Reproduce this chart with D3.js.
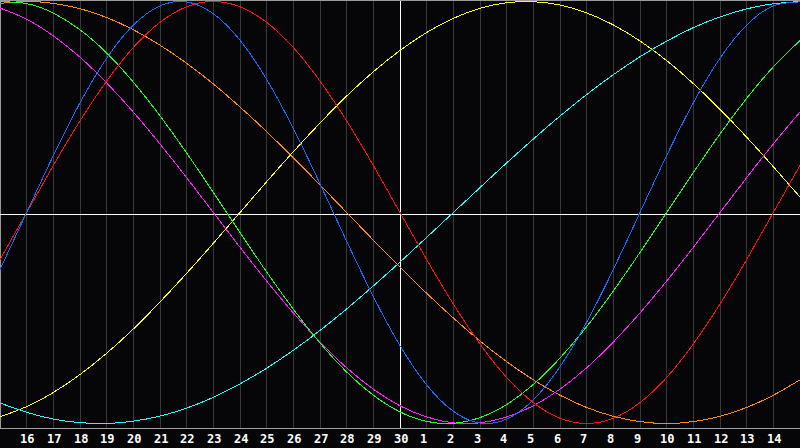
<!DOCTYPE html>
<html><head><meta charset="utf-8">
<script src="https://cdn.jsdelivr.net/npm/d3@7"></script>
<style>html,body{margin:0;padding:0;background:#060508;overflow:hidden}</style>
</head><body>
<svg id="chart" width="800" height="448"></svg>
<script>
// Day labels along the bottom (index 0 = the 15th, index 30 = the 15th of next month)
const dayLabels = [15,16,17,18,19,20,21,22,23,24,25,26,27,28,29,30,1,2,3,4,5,6,7,8,9,10,11,12,13,14,15];

// Daily values (-1 .. 1)
const physical = [-0.270,0,0.270,0.520,0.731,0.888,0.979,0.998,0.942,0.817,0.631,0.398,0.136,-0.136,-0.398,-0.631,-0.817,-0.942,-0.998,-0.979,-0.888,-0.731,-0.520,-0.270,0,0.270,0.520,0.731,0.888,0.979,0.998];
const emotional = [-0.223,0,0.223,0.434,0.623,0.782,0.901,0.975,1,0.975,0.901,0.782,0.623,0.434,0.223,0,-0.223,-0.434,-0.623,-0.782,-0.901,-0.975,-1,-0.975,-0.901,-0.782,-0.623,-0.434,-0.223,0,0.223];
const intellectual = [0.999,0.990,0.945,0.866,0.756,0.618,0.458,0.282,0.095,-0.095,-0.282,-0.458,-0.618,-0.756,-0.866,-0.945,-0.990,-0.999,-0.972,-0.910,-0.815,-0.690,-0.541,-0.372,-0.189,0,0.189,0.372,0.541,0.690,0.815];
const intuitive = [0.969,0.916,0.837,0.736,0.614,0.476,0.325,0.165,0,-0.165,-0.325,-0.476,-0.614,-0.736,-0.837,-0.916,-0.969,-0.997,-0.997,-0.969,-0.916,-0.837,-0.736,-0.614,-0.476,-0.325,-0.165,0,0.165,0.325,0.476];
const aesthetic = [-0.968,-0.920,-0.853,-0.768,-0.667,-0.552,-0.424,-0.288,-0.146,0,0.146,0.288,0.424,0.552,0.667,0.768,0.853,0.920,0.968,0.994,0.999,0.983,0.946,0.889,0.813,0.720,0.611,0.489,0.357,0.217,0.073];
const awareness = [0.991,1,0.991,0.966,0.924,0.866,0.793,0.707,0.609,0.5,0.383,0.259,0.131,0,-0.131,-0.259,-0.383,-0.5,-0.609,-0.707,-0.793,-0.866,-0.924,-0.966,-0.991,-1,-0.991,-0.966,-0.924,-0.866,-0.793];
const spiritual = [-0.903,-0.947,-0.979,-0.996,-1,-0.989,-0.965,-0.927,-0.876,-0.812,-0.738,-0.653,-0.559,-0.457,-0.348,-0.235,-0.118,0,0.118,0.235,0.348,0.457,0.559,0.653,0.738,0.812,0.876,0.927,0.965,0.989,1];

const seriesList = [awareness, aesthetic, spiritual, intuitive, intellectual, emotional, physical];
const seriesColors = ["#ff8a10", "#ffff10", "#20ffff", "#ff20ff", "#20ff20", "#ff1010", "#1a6bff"];

const W = 800, plotBottom = 428;
const svg = d3.select("#chart");
svg.append("rect").attr("width", 800).attr("height", 448).attr("fill", "#060508");

const x = d3.scaleLinear().domain([0, dayLabels.length - 1]).range([0, W]);
const y = d3.scaleLinear().domain([-1, 1]).range([423.5, 1.5]);
const px = i => Math.floor(x(i)) + 0.5;

// vertical grid lines
const idx = d3.range(1, dayLabels.length - 1);
svg.append("g").selectAll("line").data(idx).join("line")
  .attr("x1", px).attr("x2", px).attr("y1", 0).attr("y2", plotBottom)
  .attr("stroke", d => d === 15 ? "#ffffff" : "#383838")
  .attr("shape-rendering", "crispEdges");

// frame
svg.append("line").attr("x1", 0).attr("x2", W).attr("y1", 0.5).attr("y2", 0.5).attr("stroke", "#9a9a9a").attr("shape-rendering", "crispEdges");
svg.append("line").attr("x1", 0.5).attr("x2", 0.5).attr("y1", 0).attr("y2", plotBottom).attr("stroke", "#9a9a9a").attr("shape-rendering", "crispEdges");
svg.append("line").attr("x1", 0).attr("x2", W).attr("y1", plotBottom + 0.5).attr("y2", plotBottom + 0.5).attr("stroke", "#a0a0a0").attr("shape-rendering", "crispEdges");
// horizontal centre line
svg.append("line").attr("x1", 0).attr("x2", W).attr("y1", 214.5).attr("y2", 214.5).attr("stroke", "#ffffff").attr("shape-rendering", "crispEdges");

// curves
const line = d3.line().x((d, i) => x(i)).y(d => y(d)).curve(d3.curveNatural);
svg.append("clipPath").attr("id", "clp").append("rect").attr("x", 0).attr("y", 0).attr("width", W).attr("height", plotBottom);
svg.append("g").attr("clip-path", "url(#clp)").selectAll("path").data(seriesList).join("path")
  .attr("d", line).attr("fill", "none")
  .attr("stroke", (d, i) => seriesColors[i]).attr("stroke-width", 1)
  .attr("shape-rendering", "crispEdges");

// day labels
svg.append("g").selectAll("text").data(idx).join("text")
  .attr("x", i => Math.floor(x(i)) - 6).attr("y", 443)
  .attr("fill", "#ffffff")
  .attr("font-family", "DejaVu Sans Mono")
  .attr("font-weight", "bold")
  .attr("font-size", 12)
  .text(i => dayLabels[i]);
</script>
</body></html>
